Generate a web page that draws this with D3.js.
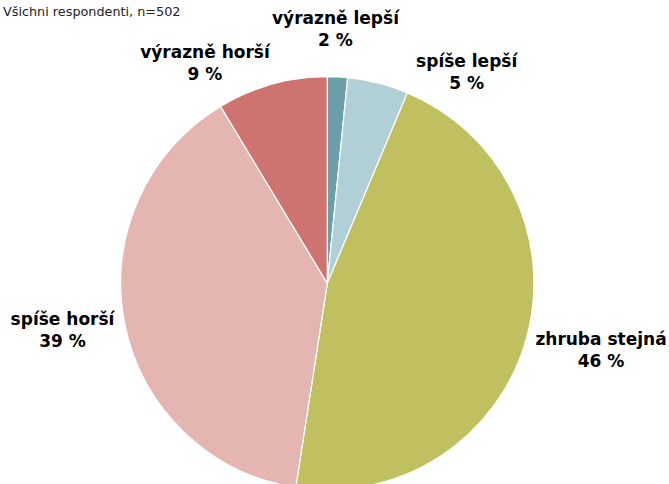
<!DOCTYPE html>
<html><head><meta charset="utf-8">
<script src="https://cdn.jsdelivr.net/npm/d3@7"></script>
<style>body{margin:0;background:#fff}svg{display:block}</style>
</head><body>
<svg id="c" width="669" height="484"></svg>
<script>
const categories = ["výrazně lepší","spíše lepší","zhruba stejná","spíše horší","výrazně horší"];
const values = [1.57, 4.77, 46.1, 38.92, 8.64];
const valueLabels = ["2 %","5 %","46 %","39 %","9 %"];
const colors = ["#6a9faa","#b0cfd6","#c1c061","#e5b6b1","#cd7470"];
const subtitle = "Všichni respondenti, n=502";

const svg = d3.select("#c");
const cx = 327.3, cy = 283.3, r = 206.6;
const pie = d3.pie().sort(null).value(d => d)(values);
const arc = d3.arc().innerRadius(0).outerRadius(r);
const g = svg.append("g").attr("transform", `translate(${cx},${cy})`);
g.selectAll("path").data(pie).join("path")
  .attr("d", arc).attr("fill", (d,i) => colors[i])
  .attr("stroke", "#fff").attr("stroke-width", 1.2);

svg.append("text").attr("x", 3).attr("y", 15.5)
  .attr("font-family", "'DejaVu Sans', Verdana, sans-serif").attr("font-size", 12.8)
  .attr("fill", "#222").text(subtitle);

// label positions (center x, baseline y of first line)
const labelPos = [[335.5,23.5],[466.7,66.5],[601,345],[62.5,325],[205,58]];
const lab = svg.append("g").attr("font-family", "'DejaVu Sans', Verdana, sans-serif")
  .attr("font-weight", "bold").attr("font-size", 17).attr("fill", "#000").attr("text-anchor", "middle");
categories.forEach((c,i) => {
  const t = lab.append("text").attr("x", labelPos[i][0]).attr("y", labelPos[i][1]);
  t.append("tspan").attr("x", labelPos[i][0]).text(c);
  t.append("tspan").attr("x", labelPos[i][0]).attr("dy", 22).text(valueLabels[i]);
});
</script>
</body></html>
